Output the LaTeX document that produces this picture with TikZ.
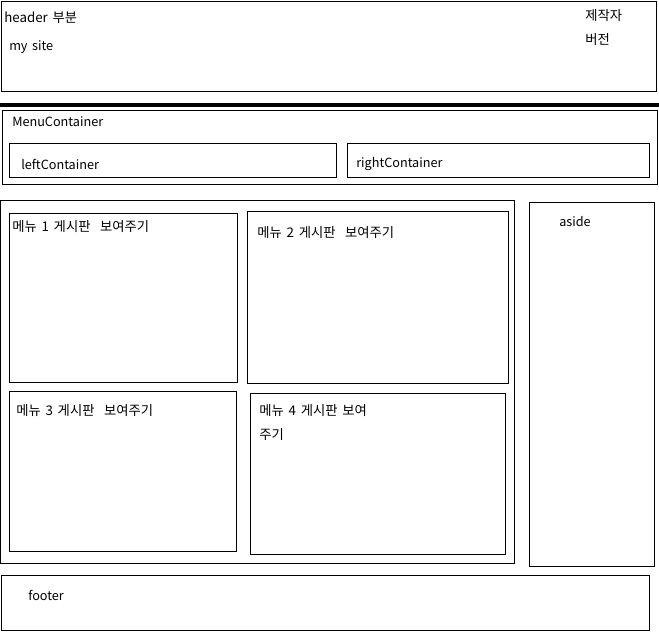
\documentclass[tikz,border=0pt]{standalone}
\usepackage{fontspec}
\setmainfont[WordSpace=1.6]{Noto Sans CJK KR}
\begin{document}
\begin{tikzpicture}[x=0.75pt,y=-0.75pt,
  box/.style={draw=black,line width=0.75pt},
  lbl/.style={anchor=west,inner sep=0pt,font=\fontsize{9.5pt}{11pt}\selectfont},
  klbl/.style={lbl,font=\fontsize{10pt}{12pt}\selectfont}]
\useasboundingbox (0,0) rectangle (659,635);
% header
\draw[box] (1.5,1.5) rectangle (656,91);
\node[klbl] (hdr) at (4,18) {header 부분};
\node[lbl] (site) at (9,47) {my site};
\node[klbl] (maker) at (585,16) {제작자};
\node[klbl] (ver) at (585,40) {버전};
% separator
\draw[line width=3pt] (0,105.3) -- (659,105.3);
% menu container
\draw[box] (2.5,110.5) rectangle (657.5,184);
\node[lbl] (mc) at (12,122) {MenuContainer};
\draw[box] (9.5,143.5) rectangle (336,177);
\node[lbl] (lc) at (21,164) {leftContainer};
\draw[box] (347.5,143.5) rectangle (649.5,177);
\node[lbl] (rc) at (356,164) {rightContainer};
% main
\draw[box] (0.5,200.5) rectangle (514.5,563);
\draw[box] (9.5,213.5) rectangle (237.5,382);
\node[klbl] (m1) at (12,227) {메뉴 1 게시판~ 보여주기};
\draw[box] (247.5,211.5) rectangle (508.5,383.5);
\node[klbl] (m2) at (257,233) {메뉴 2 게시판~ 보여주기};
\draw[box] (9.5,391.5) rectangle (236.5,551.5);
\node[klbl] (m3) at (16,411) {메뉴 3 게시판~ 보여주기};
\draw[box] (250.5,393.5) rectangle (505.5,554);
\node[klbl] (m4a) at (259,411) {메뉴 4 게시판 보여};
\node[klbl] (m4b) at (259,434) {주기};
% aside
\draw[box] (529.5,202.5) rectangle (654.5,566);
\node[lbl] (aside) at (559,222) {aside};
% footer
\draw[box] (1.5,575.5) rectangle (649.5,630);
\node[lbl] (foot) at (28,595) {footer};
\end{tikzpicture}
\end{document}
